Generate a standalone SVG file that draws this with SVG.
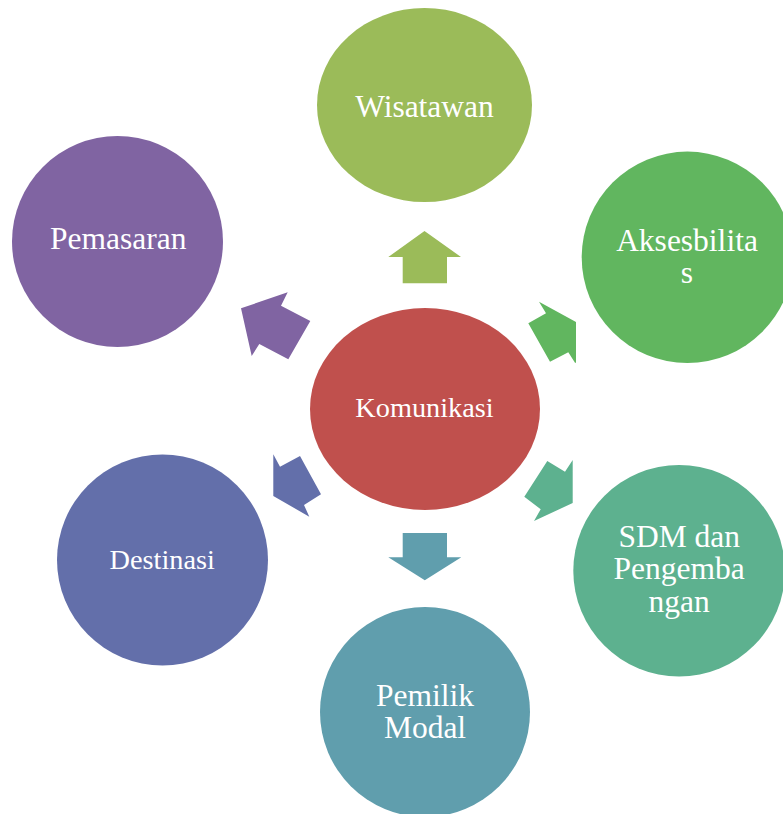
<svg xmlns="http://www.w3.org/2000/svg" width="783" height="814" viewBox="0 0 783 814">
<style>
text{font-family:"Liberation Serif","Times New Roman",serif;fill:#ffffff;text-anchor:middle}
.big{font-size:31.5px}
.small{font-size:28.3px}
</style>
<rect width="783" height="814" fill="#ffffff"/>
<g id="connectors">
<polygon fill="#9BBB59" points="424.5,231 461,257 447,257 447,283.3 402.7,283.3 402.7,257 388.3,257"/>
<polygon fill="#61B65F" points="539,301.7 576,322 576,362.7 575,362.7 568.3,352.3 550,361.7 528.3,323.3 546,313.3"/>
<polygon fill="#5DB18F" points="572.7,460 572.7,503 534,521 540.7,509.3 524.3,496.7 547.3,461 565,471.7"/>
<polygon fill="#609EAD" points="402.7,533 447,533 447,557.3 461.3,557.3 424.8,580.3 388.3,557.3 402.7,557.3"/>
<polygon fill="#636FAA" points="273.3,454.3 280,466.7 300,456 321,494.3 304,505 309.3,516.7 273.3,496"/>
<polygon fill="#8064A2" points="241,308.3 287.7,292.3 281,305.7 310.3,321 288.3,359.3 259.3,344 251.7,356"/>
</g>
<g id="komunikasi">
<ellipse cx="425" cy="409" rx="115" ry="101" fill="#C0504D"/>
<text class="small" x="424.5" y="417.3">Komunikasi</text>
</g>
<g id="wisatawan">
<ellipse cx="424.5" cy="105" rx="107.5" ry="97" fill="#9BBB59"/>
<text class="big" x="424.5" y="116.7">Wisatawan</text>
</g>
<g id="aksesbilitas">
<circle cx="687.4" cy="257.3" r="105.7" fill="#61B65F"/>
<text class="big" x="687" y="251">Aksesbilita</text>
<text class="big" x="687" y="282.5">s</text>
</g>
<g id="sdm">
<circle cx="679.1" cy="570.8" r="105.8" fill="#5DB18F"/>
<text class="big" x="679.2" y="546.7">SDM dan</text>
<text class="big" x="679.2" y="579">Pengemba</text>
<text class="big" x="679.2" y="611.5">ngan</text>
</g>
<g id="pemilik-modal">
<circle cx="425" cy="712" r="105" fill="#609EAD"/>
<text class="big" x="425" y="705.5">Pemilik</text>
<text class="big" x="425" y="737.5">Modal</text>
</g>
<g id="destinasi">
<circle cx="162.5" cy="560" r="105.5" fill="#636FAA"/>
<text class="small" x="162.2" y="569.3">Destinasi</text>
</g>
<g id="pemasaran">
<circle cx="117.5" cy="241.5" r="105.5" fill="#8064A2"/>
<text class="big" x="118.3" y="249.3">Pemasaran</text>
</g>
</svg>
